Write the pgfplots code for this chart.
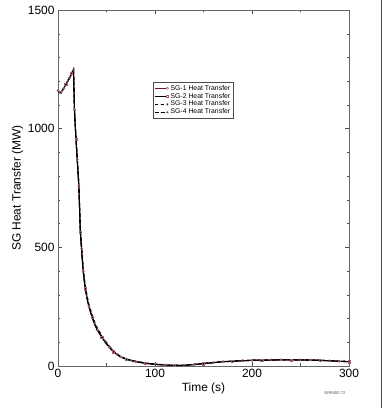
\documentclass[border=0pt]{standalone}
\usepackage{pgfplots}
\pgfplotsset{compat=1.18}
\usepackage{fontspec}
\setmainfont{Liberation Sans}
\definecolor{sgred}{RGB}{120,20,30}
\definecolor{mk}{RGB}{160,100,120}
\begin{document}
\begin{tikzpicture}
\path[use as bounding box] (-58bp,-42bp) rectangle (325bp,366bp);
\begin{axis}[
  at={(0,0)}, anchor=south west,
  scale only axis, width=291bp, height=356bp,
  xmin=0, xmax=300, ymin=0, ymax=1500,
  xtick={0,100,200,300}, ytick={0,500,1000,1500},
  minor xtick={50,150,250},
  minor ytick={100,200,300,400,600,700,800,900,1100,1200,1300,1400},
  tick align=inside, tick pos=both,
  major tick length=4bp, minor tick length=2.5bp,
  tick style={black!70, thin},
  axis line style={black!60, thin},
  ticklabel style={font=\fontsize{12}{13}\selectfont},
  /pgf/number format/assume math mode=true,
  /pgf/number format/1000 sep={},
  xlabel={Time (s)}, ylabel={SG Heat Transfer (MW)},
  label style={font=\fontsize{12}{13}\selectfont},
  xlabel style={yshift=2bp},
  ylabel style={yshift=-2bp},
  legend style={at={(0.326,0.798)}, anchor=north west, font=\fontsize{6.9}{7.5}\selectfont,
    draw=black!70, thin, inner sep=1pt, row sep=-2.5pt, cells={anchor=west}},
  legend image code/.code={\draw[mark repeat=3, mark phase=3, #1] plot coordinates {(0cm,0cm) (0.22cm,0cm) (0.45cm,0cm)};},
  every axis plot/.append style={line width=1.1pt},
]
\addplot[sgred, mark=o, mark options={solid, mk, thin, scale=0.6}, mark repeat=3] coordinates {
(0,1160)(2,1152)(4,1158)(6,1170)(8,1185)(10,1200)(12,1215)(14,1232)(16,1250)(17,1080)(18.5,960)(20,860)(21.5,760)(23,570)(24.5,480)(26,400)(28,330)(30,285)(32,250)(35,210)(38,175)(41,150)(45,125)(49,100)(53,80)(57,62)(61,48)(65,38)(70,30)(75,24)(80,19)(90,12)(100,7)(110,4)(120,2)(130,3)(140,6)(150,10)(160,14)(170,18)(180,20)(190,22)(200,24)(210,25)(220,25)(230,26)(240,26)(250,26)(260,25)(270,24)(280,22)(290,20)(300,18)};
\addlegendentry{SG-1 Heat Transfer}
\addplot[black, mark=square, mark options={solid, mk, thin, scale=0.55}, mark repeat=3, mark phase=2] coordinates {
(0,1162)(2,1153)(4,1159)(6,1171)(8,1186)(10,1201)(12,1216)(14,1233)(16,1248)(17,1075)(18.5,955)(20,855)(21.5,755)(23,565)(24.5,475)(26,395)(28,326)(30,282)(32,247)(35,207)(38,172)(41,147)(45,122)(49,97)(53,78)(57,60)(61,47)(65,37)(70,29)(75,23)(80,18)(90,11)(100,7)(110,4)(120,2)(130,3)(140,6)(150,10)(160,14)(170,18)(180,20)(190,22)(200,24)(210,25)(220,25)(230,26)(240,26)(250,25)(260,25)(270,24)(280,22)(290,20)(300,18)};
\addlegendentry{SG-2 Heat Transfer}
\addplot[black, dashed, mark=diamond, mark options={solid, mk, thin, scale=0.6}, mark repeat=3, mark phase=3] coordinates {
(0,1158)(2,1150)(4,1157)(6,1169)(8,1184)(10,1199)(12,1214)(14,1231)(16,1246)(17,1070)(18.5,970)(20,870)(21.5,770)(23,590)(24.5,495)(26,412)(28,340)(30,295)(32,258)(35,218)(38,182)(41,156)(45,130)(49,104)(53,84)(57,65)(61,50)(65,40)(70,31)(75,25)(80,20)(90,13)(100,8)(110,5)(120,3)(130,4)(140,7)(150,11)(160,15)(170,19)(180,21)(190,23)(200,24)(210,25)(220,26)(230,26)(240,26)(250,26)(260,25)(270,24)(280,22)(290,21)(300,19)};
\addlegendentry{SG-3 Heat Transfer}
\addplot[black, dash pattern=on 4pt off 2pt, mark=triangle, mark options={solid, mk, thin, scale=0.6}, mark repeat=3, mark phase=1] coordinates {
(0,1160)(2,1151)(4,1158)(6,1170)(8,1185)(10,1200)(12,1215)(14,1232)(16,1249)(17,1078)(18.5,962)(20,862)(21.5,762)(23,575)(24.5,485)(26,405)(28,334)(30,288)(32,252)(35,212)(38,177)(41,152)(45,127)(49,101)(53,81)(57,63)(61,49)(65,38)(70,30)(75,24)(80,19)(90,12)(100,7)(110,4)(120,2)(130,3)(140,6)(150,10)(160,14)(170,18)(180,20)(190,22)(200,24)(210,25)(220,25)(230,26)(240,26)(250,26)(260,25)(270,24)(280,22)(290,20)(300,18)};
\addlegendentry{SG-4 Heat Transfer}
\end{axis}
\node[font=\fontsize{4}{4}\selectfont, text=black!70] at (277bp,-27bp) {ERR400 T2};
\draw[black!70, line width=0.8pt] (323bp,-42bp) -- (323bp,366bp);
\end{tikzpicture}
\end{document}
